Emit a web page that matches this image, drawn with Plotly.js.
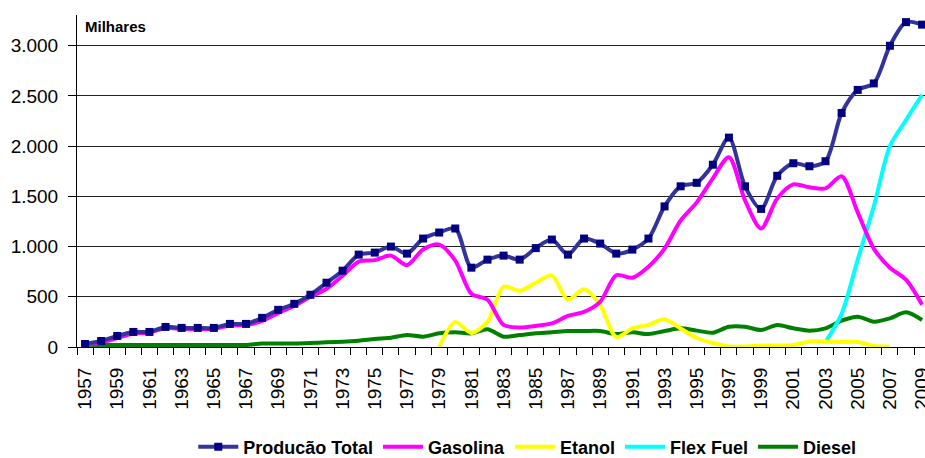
<!DOCTYPE html>
<html>
<head>
<meta charset="utf-8">
<script src="https://cdn.plot.ly/plotly-3.0.1.min.js"></script>
<style>html,body{margin:0;padding:0;overflow:hidden;background:#fff}#chart{width:925px;height:458px}</style>
</head>
<body>
<div id="chart"></div>
<script>
const years = [];
for (let y = 1957; y <= 2009; y++) years.push(y);

const producaoTotal = [30,60,110,150,150,200,190,190,190,230,230,290,370,430,520,
  640,760,920,940,1000,930,1080,1140,1180,790,870,910,870,985,1070,920,1080,1030,930,
  970,1080,1400,1600,1635,1815,2085,1600,1375,1705,1830,1800,1850,2330,2560,2625,3000,3235,3210];

const gasolina = [20,45,90,135,145,190,180,180,180,215,220,260,340,410,500,
  580,710,850,865,910,815,970,1020,860,530,470,220,195,210,235,310,350,450,715,
  690,800,980,1260,1440,1680,1890,1460,1180,1480,1620,1590,1580,1700,1340,980,790,670,420];

const etanolYears = [];
for (let y = 1979; y <= 2007; y++) etanolYears.push(y);
const etanol = [0,250,140,250,600,560,640,710,470,575,420,100,
  185,220,275,185,90,40,5,5,15,15,20,55,55,50,50,10,5];

const flexYears = [2003,2004,2005,2006,2007,2008,2009];
const flexFuel = [50,330,870,1400,2000,2260,2510];

const diesel = [20,20,20,20,20,20,20,20,20,20,20,35,35,35,40,
  47,53,63,80,93,119,103,136,146,136,176,103,119,136,146,159,159,159,129,
  146,129,159,186,163,143,202,202,169,219,186,163,186,262,302,252,285,345,269];

const xTickVals = years.filter(y => (y - 1957) % 2 === 0);

const FONT = "Liberation Sans, Arial, sans-serif";

const traces = [
  {name:'Diesel', x:years, y:diesel, type:'scatter', mode:'lines',
   line:{color:'#008000', width:4, shape:'spline', smoothing:0.8}, legendrank:5},
  {name:'Flex Fuel', x:flexYears, y:flexFuel, type:'scatter', mode:'lines',
   line:{color:'#00FFFF', width:4, shape:'spline', smoothing:0.8}, legendrank:4},
  {name:'Etanol', x:etanolYears, y:etanol, type:'scatter', mode:'lines',
   line:{color:'#FFFF00', width:4, shape:'spline', smoothing:0.8}, legendrank:3},
  {name:'Gasolina', x:years, y:gasolina, type:'scatter', mode:'lines',
   line:{color:'#FF00FF', width:4, shape:'spline', smoothing:0.8}, legendrank:2},
  {name:'Producão Total', x:years, y:producaoTotal, type:'scatter', mode:'lines+markers',
   line:{color:'#333399', width:4, shape:'spline', smoothing:0.8},
   marker:{symbol:'square', size:8, color:'#000080', line:{width:0}}, legendrank:1}
];

const layout = {
  width:925, height:458,
  margin:{l:77, r:0, t:15, b:111, autoexpand:false},
  paper_bgcolor:'#fff', plot_bgcolor:'#fff',
  separators:',.',
  font:{family:FONT, color:'#000'},
  showlegend:true,
  legend:{orientation:'h', x:0.531, xanchor:'center', y:-0.357, yanchor:'bottom',
    itemwidth:40,
    font:{family:FONT, size:18, color:'#000', weight:'bold'}, traceorder:'normal'},
  xaxis:{
    range:[1956.5, 2009.18], showgrid:false, zeroline:false,
    showline:true, linecolor:'#000', linewidth:1,
    tickmode:'array', tickvals:xTickVals, ticktext:xTickVals.map(String),
    ticks:'', tickangle:-90, tickfont:{family:FONT, size:19, color:'#000'},
    ticklabelstandoff:12, ticklabeloverflow:'allow',
    minor:{tickmode:'linear', tick0:1956.5, dtick:1, ticks:'outside', ticklen:7, tickcolor:'#000', tickwidth:1, showgrid:false}
  },
  yaxis:{
    range:[0, 3306], tickmode:'linear', tick0:0, dtick:500, tickformat:',',
    showgrid:true, gridcolor:'#222', gridwidth:1, zeroline:false,
    showline:true, linecolor:'#000', linewidth:1,
    ticks:'outside', ticklen:8, tickcolor:'#000',
    tickfont:{family:FONT, size:19, color:'#000'}, ticklabelstandoff:6
  },
  annotations:[{text:'<b>Milhares</b>', xref:'paper', yref:'paper', x:0.007, y:0.964,
    xanchor:'left', yanchor:'middle', showarrow:false, font:{family:FONT, size:15, color:'#000'}}]
};

Plotly.newPlot('chart', traces, layout, {displayModeBar:false, staticPlot:true});
</script>
</body>
</html>
